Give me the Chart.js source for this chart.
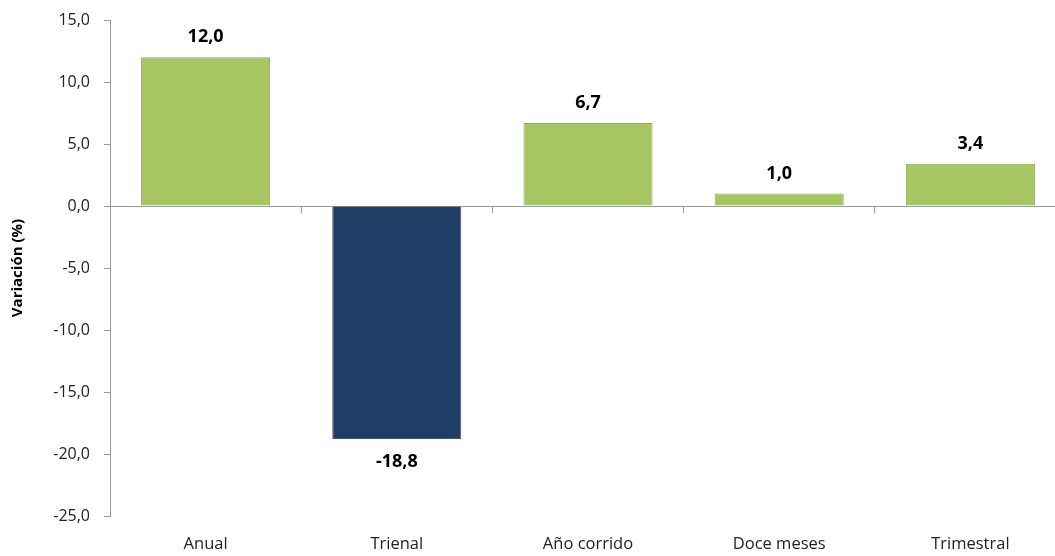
<!DOCTYPE html>
<html>
<head>
<meta charset="utf-8">
<script src="https://cdn.jsdelivr.net/npm/chart.js@4.4.0/dist/chart.umd.min.js"></script>
<style>
  html, body { margin: 0; padding: 0; background: #fff; overflow: hidden; }
  #wrap { width: 1070px; height: 556px; }
</style>
</head>
<body>
<div id="wrap"><canvas id="chart"></canvas></div>
<script>
const categories = ['Anual', 'Trienal', 'Año corrido', 'Doce meses', 'Trimestral'];
const values = [12.0, -18.8, 6.7, 1.0, 3.4];
const yTicks = [15, 10, 5, 0, -5, -10, -15, -20, -25];

const green = '#a6c664';
const navy = '#1f3d65';

function fmt(v) {
    return v.toFixed(1).replace('.', ',');
}

const barLabels = {
    id: 'barLabels',
    afterDatasetsDraw(chart) {
        const ctx = chart.ctx;
        const meta = chart.getDatasetMeta(0);
        ctx.save();
        ctx.font = 'bold 18px "Open Sans", sans-serif';
        ctx.fillStyle = '#000';
        ctx.textAlign = 'center';
        ctx.textBaseline = 'middle';
        meta.data.forEach((bar, i) => {
            const v = values[i];
            const y = v >= 0 ? bar.y - 20 : bar.y + 23;
            ctx.fillText(fmt(v), bar.x, y);
        });
        ctx.restore();
    }
};

new Chart(document.getElementById('chart'), {
    type: 'bar',
    data: {
        labels: categories,
        datasets: [{
            data: values,
            backgroundColor: values.map(v => v >= 0 ? green : navy),
            borderColor: values.map(v => v >= 0 ? '#8ea955' : '#46566c'),
            borderWidth: 1,
            barPercentage: 0.675,
            categoryPercentage: 1.0
        }]
    },
    options: {
        responsive: true,
        maintainAspectRatio: false,
        animation: false,
        layout: { padding: { top: 20, right: 4, left: 0, bottom: 0 } },
        plugins: {
            legend: { display: false },
            tooltip: { enabled: false }
        },
        scales: {
            x: {
                position: 'bottom',
                offset: true,
                grid: { display: false, drawTicks: false },
                border: { display: false },
                ticks: {
                    color: '#222',
                    font: { family: '"Open Sans", sans-serif', size: 16.5 },
                    padding: 18,
                    maxRotation: 0
                },
                afterFit: s => { s.height = 40; }
            },
            x2: {
                type: 'category',
                position: { y: 0 },
                offset: true,
                grid: { offset: true, drawOnChartArea: false, tickLength: 6, color: '#999' },
                border: { display: true, color: '#999' },
                ticks: { display: false }
            },
            y: {
                min: -25,
                max: 15,
                afterBuildTicks: s => { s.ticks = yTicks.map(v => ({ value: v })); },
                grid: { drawOnChartArea: false, tickLength: 6, color: '#999' },
                border: { display: true, color: '#999' },
                ticks: {
                    color: '#222',
                    font: { family: '"Open Sans", sans-serif', size: 16 },
                    padding: 14,
                    callback: v => fmt(v)
                },
                title: {
                    display: true,
                    text: 'Variación (%)',
                    color: '#000',
                    font: { family: '"Open Sans", sans-serif', size: 15, weight: 'bold' },
                    padding: { top: 9, bottom: 0 }
                },
                afterFit: s => {
                    s.width = 110;
                    s.paddingTop = 0;
                    s.paddingBottom = 0;
                }
            }
        }
    },
    plugins: [barLabels]
});
</script>
</body>
</html>
